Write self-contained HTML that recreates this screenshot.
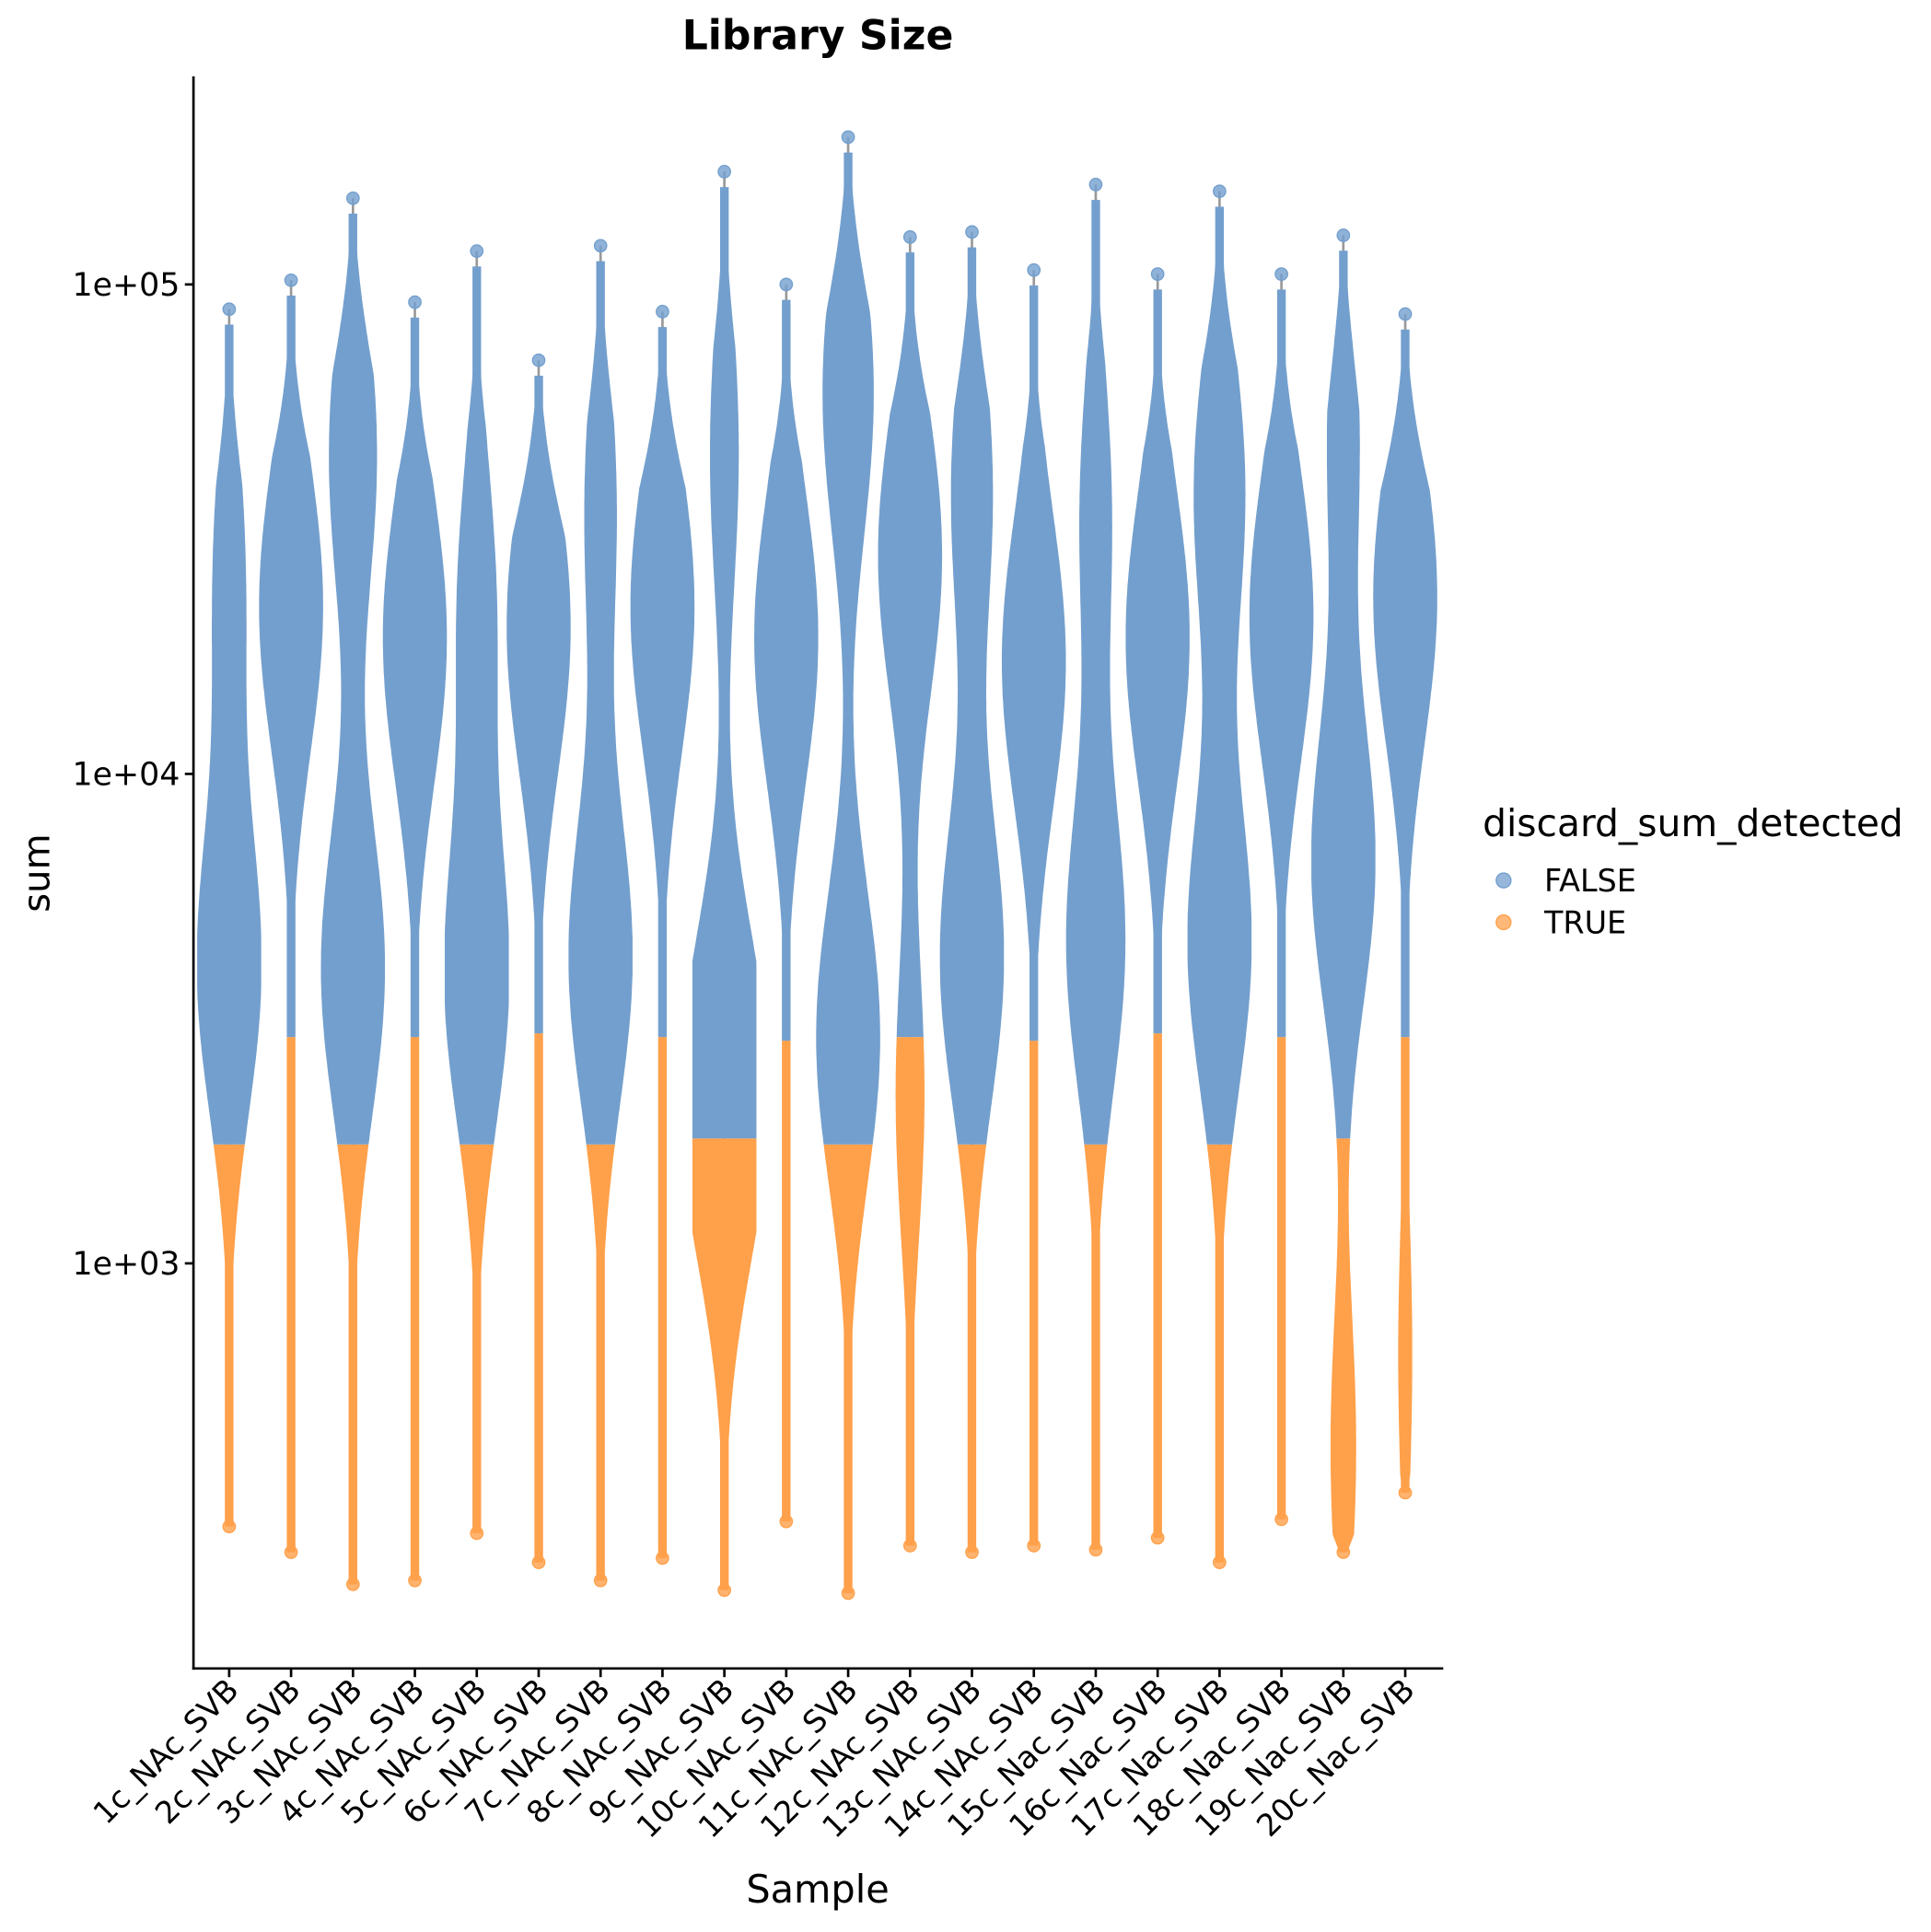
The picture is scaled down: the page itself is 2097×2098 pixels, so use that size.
<!DOCTYPE html>
<html><head><meta charset="utf-8"><style>html,body{margin:0;padding:0;background:#fff}svg{display:block}text{font-family:"DejaVu Sans","Liberation Sans",sans-serif}</style></head>
<body>
<svg id="chart" width="2097" height="2098" viewBox="0 0 1568 1569" xmlns="http://www.w3.org/2000/svg">
<rect width="1568" height="1569" fill="#fff"/>
<text x="664" y="40" font-size="33" font-weight="bold" text-anchor="middle">Library Size</text>
<g id="violins"></g>
<line x1="157" y1="62" x2="157" y2="1356" stroke="#000" stroke-width="2"/>
<line x1="156" y1="1355" x2="1172" y2="1355" stroke="#000" stroke-width="2"/>
<g id="yticks"></g>
<g id="xticks"></g>
<text transform="translate(40,709) rotate(-90)" font-size="30" text-anchor="middle">sum</text>
<text x="664" y="1545" font-size="31" text-anchor="middle">Sample</text>
<g>
<text x="1204" y="679" font-size="30.5">discard_sum_detected</text>
<circle cx="1221" cy="715" r="6" fill="#739fce" fill-opacity="0.75" stroke="#739fce"/>
<text x="1254" y="724" font-size="25">FALSE</text>
<circle cx="1221" cy="749" r="6" fill="#ffa04a" fill-opacity="0.75" stroke="#ffa04a"/>
<text x="1254" y="758" font-size="25">TRUE</text>
</g>
</svg>
<script>
const samples=["1c_NAc_SVB","2c_NAc_SVB","3c_NAc_SVB","4c_NAc_SVB","5c_NAc_SVB","6c_NAc_SVB","7c_NAc_SVB","8c_NAc_SVB","9c_NAc_SVB","10c_NAc_SVB","11c_NAc_SVB","12c_NAc_SVB","13c_NAc_SVB","14c_NAc_SVB","15c_Nac_SVB","16c_Nac_SVB","17c_Nac_SVB","18c_Nac_SVB","19c_Nac_SVB","20c_Nac_SVB"];
const maxVals=[89000,102000,150000,92000,117000,70000,120000,88000,170000,100000,200000,125000,128000,107000,160000,105000,155000,105000,126000,87000];
const minVals=[290,257,221,225,281,245,225,250,215,297,212,265,257,265,260,275,245,300,257,340];
const thresholds=[1750,2900,1750,2900,1750,2950,1750,2900,1800,2850,1750,2900,1750,2850,1750,2950,1750,2900,1800,2900];
// density modes: [value, relative half-width 0..1]
const modeA=[[4000,1],[22000,1],[4000,1],[19000,1],[3800,1],[20000,1],[4200,1],[22000,1],[3000,0.7],[19000,1],[2900,1],[28000,1],[4200,1],[17000,1],[4500,0.92],[19000,1],[4500,1],[21000,1],[6600,1],[23000,1]];
const modeB=[[25000,0.5],[null,0],[45000,0.75],[null,0],[22000,0.6],[null,0],[35000,0.5],[null,0],[45000,0.45],[null,0],[60000,0.8],[2200,0.45],[38000,0.65],[null,0],[34000,0.5],[null,0],[38000,0.8],[null,0],[50000,0.5],[650,0.22]];
const modeC=[[null,0],[null,0],[null,0],[null,0],[null,0],[null,0],[null,0],[null,0],[1700,0.85],[null,0],[null,0],[null,0],[null,0],[null,0],[null,0],[null,0],[null,0],[null,0],[420,0.4],[null,0]];
const yTicks=[1000,10000,100000];
const yTickLabels=["1e+03","1e+04","1e+05"];

const NS="http://www.w3.org/2000/svg";
function yScale(v){return 1026-(Math.log10(v)-3)*397.5;}
function xScale(i){return 186+i*50.27;}
const HALF=26, SD=0.3;
function mk(tag,attrs,parent){const e=document.createElementNS(NS,tag);for(const k in attrs)e.setAttribute(k,attrs[k]);parent.appendChild(e);return e;}

const yt=document.getElementById('yticks');
yTicks.forEach((v,i)=>{
  const y=yScale(v);
  const l=mk('line',{x1:150,x2:157,y1:y,y2:y,stroke:'#000','stroke-width':2},yt);
  
  
  const t=mk('text',{x:146,y:y+9,'font-size':26,'text-anchor':'end'},yt);
  t.textContent=yTickLabels[i];
  
  
});
const xt=document.getElementById('xticks');
samples.forEach((s,i)=>{
  const x=xScale(i);
  const l=mk('line',{x1:x,x2:x,y1:1355,y2:1362,stroke:'#000','stroke-width':2},xt);
  
  
  const t=mk('text',{transform:`translate(${x+9},1374) rotate(-45)`,'font-size':25,'text-anchor':'end'},xt);
  t.textContent=s;
  
  
});

const g=document.getElementById('violins');
samples.forEach((s,i)=>{
  const cx=xScale(i);
  const lmin=Math.log10(minVals[i]), lmax=Math.log10(maxVals[i]);
  const modes=[modeA[i],modeB[i],modeC[i]].filter(m=>m[0]);
  function hw(l){let w=0;modes.forEach(m=>{const d=(l-Math.log10(m[0]))/SD;w+=m[1]*HALF*Math.exp(-d*d/2);});return Math.min(HALF,Math.max(w,3.5));}
  const grp=mk('g',{},g);
  
  
  const wl=mk('line',{x1:cx,x2:cx,y1:yScale(maxVals[i]),y2:yScale(minVals[i]),stroke:'#999','stroke-width':2},grp);
  
  
  function part(lo,hi,color,name){
    const n=150,L=[],R=[];
    for(let k=0;k<=n;k++){const l=lo+(hi-lo)*k/n;const w=hw(l);const taper=Math.min(1,(l-lmin)/0.06+0.4,(lmax-l)/0.45+0.2);const ww=Math.max(3.5,w*taper);const y=yScale(Math.pow(10,l));L.push((cx-ww).toFixed(1)+','+y.toFixed(1));R.unshift((cx+ww).toFixed(1)+','+y.toFixed(1));}
    const p=mk('polygon',{points:L.concat(R).join(' '),fill:color},grp);
    
    
  }
  const lt=Math.log10(thresholds[i]);
  part(lmin,lt,'#ffa04a','violin-true-part');
  part(lt,Math.log10(maxVals[i]*0.93),'#739fce','violin-false-part');
  const pc=mk('circle',{cx:cx,cy:yScale(maxVals[i]),r:5,fill:'#739fce','fill-opacity':0.8,stroke:'#739fce'},grp);
  
  
  const pm=mk('circle',{cx:cx,cy:yScale(minVals[i]),r:5,fill:'#ffa04a','fill-opacity':0.8,stroke:'#ffa04a'},grp);
  
  
});
</script>
</body></html>
